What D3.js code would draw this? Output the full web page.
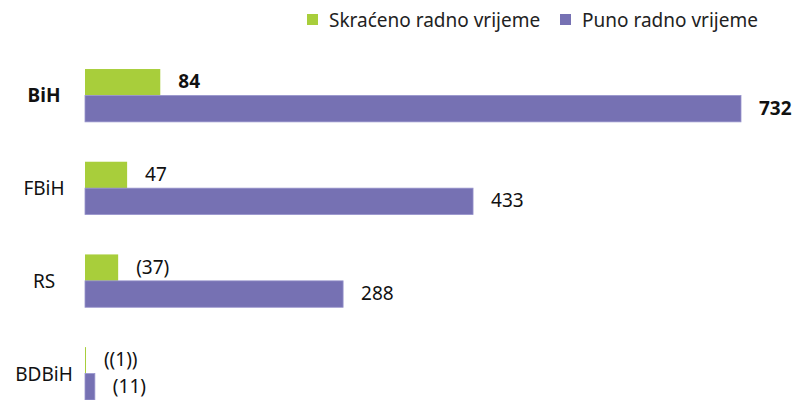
<!DOCTYPE html>
<html><head><meta charset="utf-8">
<script src="https://cdn.jsdelivr.net/npm/d3@7"></script>
<style>body{margin:0;background:#fff;} text{font-family:"Noto Sans",sans-serif;}</style>
</head><body><svg id="c" width="792" height="400"></svg>
<script>
const categories = ["BiH", "FBiH", "RS", "BDBiH"];
const seriesNames = ["Skraćeno radno vrijeme", "Puno radno vrijeme"];
const partTime = [84, 47, 37, 1];
const fullTime = [732, 433, 288, 11];
const partLabels = ["84", "47", "(37)", "((1))"];
const fullLabels = ["732", "433", "288", "(11)"];
const colors = ["#A8CE3B", "#7671B3"];

const svg = d3.select("#c");
const x = d3.scaleLinear().domain([0, 732]).range([85, 741]);
const y = d3.scaleBand().domain(categories).range([49.1, 419.9]).paddingInner(0.43).paddingOuter(0.215);
const sub = d3.scaleBand().domain([0, 1]).range([0, y.bandwidth()]);
const series = [partTime, fullTime];
const labels = [partLabels, fullLabels];

categories.forEach((c, i) => {
  const g = svg.append("g");
  g.append("text").attr("x", 44).attr("y", y(c) + y.bandwidth() / 2)
    .attr("text-anchor", "middle").attr("dominant-baseline", "central")
    .attr("font-size", 19).attr("font-weight", i === 0 ? "bold" : "normal")
    .attr("fill", "#111").text(c);
  series.forEach((s, k) => {
    g.append("rect").attr("x", x(0)).attr("y", y(c) + sub(k))
      .attr("width", Math.max(1, x(s[i]) - x(0))).attr("height", sub.bandwidth())
      .attr("fill", colors[k])
      .attr("stroke", k === 1 ? "#9894cc" : "none").attr("stroke-width", k === 1 ? 0.8 : 0);
    g.append("text").attr("x", x(s[i]) + 18).attr("y", y(c) + sub(k) + sub.bandwidth() / 2 - 1)
      .attr("dominant-baseline", "central").attr("font-size", 19)
      .attr("font-weight", i === 0 ? "bold" : "normal").attr("fill", "#111")
      .text(labels[k][i]);
  });
});

const legendX = [307, 560];
seriesNames.forEach((n, k) => {
  svg.append("rect").attr("x", legendX[k]).attr("y", 14).attr("width", 11).attr("height", 11).attr("fill", colors[k]);
  svg.append("text").attr("x", legendX[k] + 22).attr("y", 20).attr("dominant-baseline", "central")
    .attr("font-size", 19).attr("fill", "#222").text(n);
});
</script></body></html>
